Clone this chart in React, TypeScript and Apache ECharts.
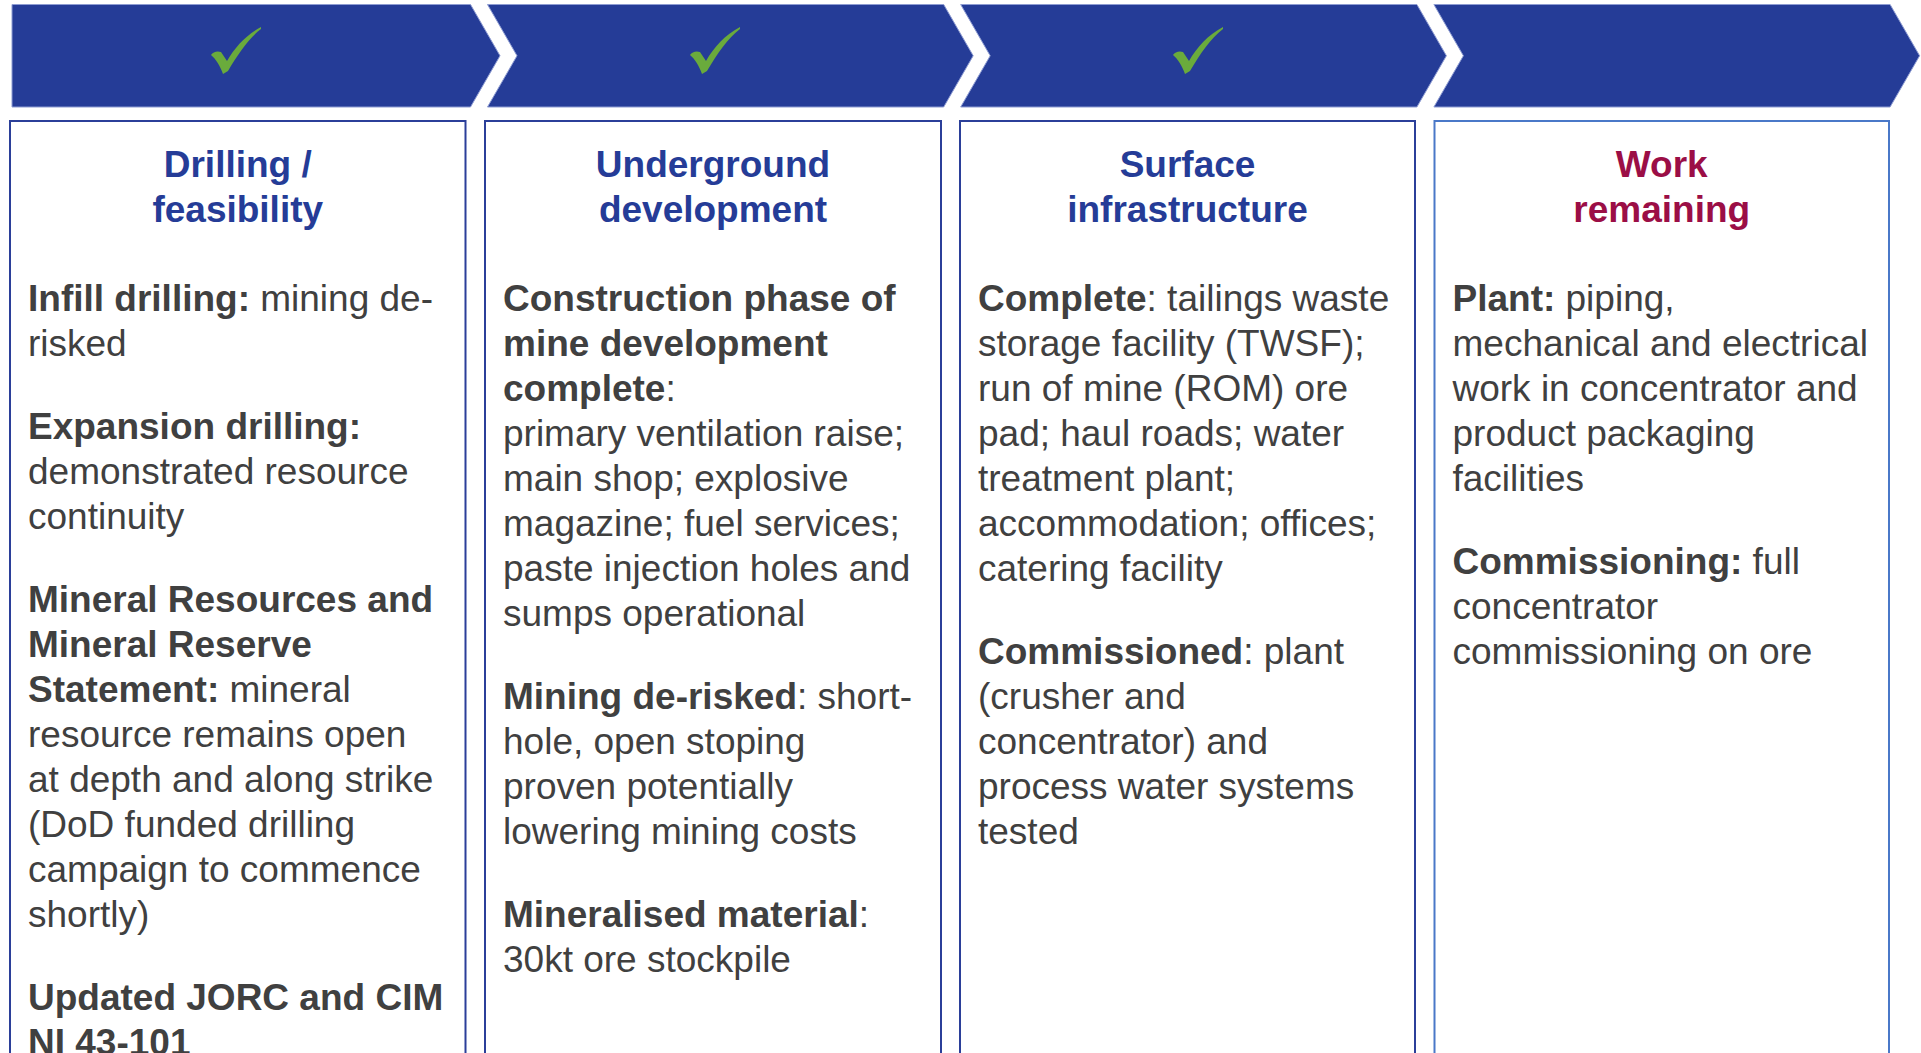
import React, { useEffect, useRef } from "react";
import * as echarts from "echarts";

// ---------- content ----------
const STAGE_DONE = [true, true, true, false];

const HEADERS: string[][] = [
  ["Drilling /", "feasibility"],
  ["Underground", "development"],
  ["Surface", "infrastructure"],
  ["Work", "remaining"],
];

const HEADER_COLORS = ["#253C97", "#253C97", "#253C97", "#9B0E46"];

const COL1: string[][] = [
  ["**Infill drilling:** mining de-", "risked"],
  ["**Expansion drilling:**", "demonstrated resource", "continuity"],
  [
    "**Mineral Resources and**",
    "**Mineral Reserve**",
    "**Statement:** mineral",
    "resource remains open",
    "at depth and along strike",
    "(DoD funded drilling",
    "campaign to commence",
    "shortly)",
  ],
  ["**Updated JORC and CIM**", "**NI 43-101**"],
];

const COL2: string[][] = [
  [
    "**Construction phase of**",
    "**mine development**",
    "**complete**:",
    "primary ventilation raise;",
    "main shop; explosive",
    "magazine; fuel services;",
    "paste injection holes and",
    "sumps operational",
  ],
  ["**Mining de-risked**: short-", "hole, open stoping", "proven potentially", "lowering mining costs"],
  ["**Mineralised material**:", "30kt ore stockpile"],
];

const COL3: string[][] = [
  [
    "**Complete**: tailings waste",
    "storage facility (TWSF);",
    "run of mine (ROM) ore",
    "pad; haul roads; water",
    "treatment plant;",
    "accommodation; offices;",
    "catering facility",
  ],
  ["**Commissioned**: plant", "(crusher and", "concentrator) and", "process water systems", "tested"],
];

const COL4: string[][] = [
  [
    "**Plant:** piping,",
    "mechanical and electrical",
    "work in concentrator and",
    "product packaging",
    "facilities",
  ],
  ["**Commissioning:** full", "concentrator", "commissioning on ore"],
];

const COLUMNS = [COL1, COL2, COL3, COL4];

// ---------- styling / layout ----------
const FONT = "Liberation Sans, Arial, Helvetica, sans-serif";
const ARROW_FILL = "#253C97";
const ARROW_EDGE = "#8E9CD2";
const BOX_BORDERS = ["#2B3F99", "#2B3F99", "#2B3F99", "#4A78C8"];
const CHECK_FILL = "#6AAB3C";
const TEXT_COLOR = "#404040";
const BODY_SIZE = 37;
const HEAD_SIZE = 37;

const CHECK_D =
  "M0,28 C2,25 6,23.5 10,25 L16,34 C24,20 35,8 50,0 L50,2 C38,11 27,27 17,44 L12,47 C9,39 5,32 0,28 Z";
echarts.graphic.registerShape("check", echarts.graphic.extendPath(CHECK_D, {}) as any);

function toRich(line: string): string {
  const parts = line.split(/\*\*(.*?)\*\*/);
  let out = "";
  parts.forEach((p, i) => {
    if (!p) return;
    out += i % 2 === 1 ? `{b|${p}}` : `{r|${p}}`;
  });
  return out;
}

function buildGraphics() {
  const els: any[] = [];
  const arrowTop = 4.5;
  const arrowBot = 107;
  const arrowMid = (arrowTop + arrowBot) / 2;
  const depth = 29.5;
  const checkX = [211, 690, 1173];

  for (let i = 0; i < 4; i++) {
    const right = 470.5 + 473.2 * i;
    const left = i === 0 ? 12 : 470.5 + 473.2 * (i - 1) + 17;
    const pts: number[][] = [
      [left, arrowTop],
      [right, arrowTop],
      [right + depth, arrowMid],
      [right, arrowBot],
      [left, arrowBot],
    ];
    if (i > 0) pts.push([left + depth, arrowMid]);
    els.push({
      type: "polygon",
      shape: { points: pts },
      style: { fill: ARROW_FILL, stroke: ARROW_EDGE, lineWidth: 1 },
    });
    if (STAGE_DONE[i]) {
      els.push({
        type: "check",
        x: checkX[i],
        y: 27,
        shape: {},
        style: { fill: CHECK_FILL },
      });
    }
  }

  const boxLeft = [9, 484, 959, 1433.5];
  const boxRight = [466.5, 942, 1416, 1890];
  for (let i = 0; i < 4; i++) {
    els.push({
      type: "rect",
      shape: { x: boxLeft[i] + 1, y: 121, width: boxRight[i] - boxLeft[i] - 2, height: 1000 },
      style: { fill: "#ffffff", stroke: BOX_BORDERS[i], lineWidth: 2 },
    });
    const cx = (boxLeft[i] + boxRight[i]) / 2;
    HEADERS[i].forEach((h, k) => {
      els.push({
        type: "text",
        x: cx,
        y: 164 + 45 * k,
        style: {
          text: h,
          fill: HEADER_COLORS[i],
          font: `bold ${HEAD_SIZE}px ${FONT}`,
          align: "center",
          verticalAlign: "middle",
        },
      });
    });

    let y = 298;
    const tx = boxLeft[i] + 19;
    COLUMNS[i].forEach((para, pi) => {
      if (pi > 0) y += 38;
      para.forEach((line) => {
        els.push({
          type: "text",
          x: tx,
          y,
          style: {
            text: toRich(line),
            align: "left",
            verticalAlign: "middle",
            rich: {
              b: { fontFamily: FONT, fontSize: BODY_SIZE, fontWeight: "bold", fill: TEXT_COLOR, lineHeight: 45 },
              r: { fontFamily: FONT, fontSize: BODY_SIZE, fontWeight: "normal", fill: TEXT_COLOR, lineHeight: 45 },
            },
          },
        });
        y += 45;
      });
    });
  }
  return els;
}

export default function App() {
  const ref = useRef<HTMLDivElement>(null);
  useEffect(() => {
    if (!ref.current) return;
    const chart = echarts.init(ref.current, undefined, { renderer: "svg" });
    chart.setOption({
      animation: false,
      backgroundColor: "#ffffff",
      graphic: { elements: buildGraphics() },
    });
    return () => chart.dispose();
  }, []);
  return (
    <div
      ref={ref}
      style={{ position: "fixed", left: 0, top: 0, width: 1921, height: 1053, background: "#fff" }}
    />
  );
}
